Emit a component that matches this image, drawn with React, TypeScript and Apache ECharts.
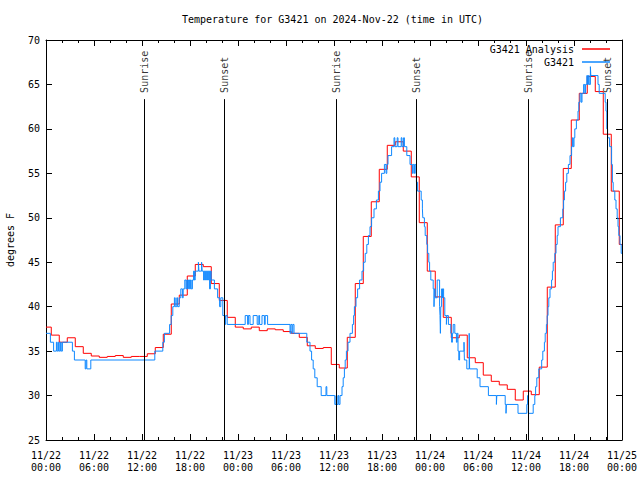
import React, { useEffect, useRef } from 'react';
import * as echarts from 'echarts';

const TITLE = 'Temperature for G3421 on 2024-Nov-22 (time in UTC)';
const Y_NAME = 'degrees F';
const Y_MIN = 25;
const Y_MAX = 70;
const Y_STEP = 5;
const X_MAX = 72; // hours after 11/22 00:00 UTC
const X_STEP = 6;
const START_MONTH = 11;
const START_DAY = 22;

const ANALYSIS_NAME = 'G3421 Analysis';
const OBS_NAME = 'G3421';

// hourly analysis values; each step begins ~20 minutes before the hour
const ANALYSIS_LEAD = 0.34;
const analysisTemps = [
  37.7, 36.8, 36.0, 36.5, 35.5, 34.75, 34.45, 34.3, 34.4, 34.5, 34.3, 34.4,
  34.4, 34.7, 35.4, 36.9, 40.3, 41.3, 43.45, 44.75, 44.5, 42.6, 40.7, 38.8,
  37.7, 37.5, 37.7, 37.3, 37.5, 37.4, 37.2, 37.0, 36.55, 35.6, 35.3, 35.4,
  33.5, 33.1, 36.55, 42.6, 47.9, 51.8, 55.45, 58.15, 58.55, 57.5, 54.6, 49.45,
  44.0, 41.1, 38.8, 36.5, 36.8, 34.25, 33.7, 32.3, 31.6, 31.2, 30.7, 29.5,
  30.5, 30.1, 33.2, 42.2, 49.2, 55.55, 61.0, 64.0, 65.9, 64.2, 59.4, 53.0,
  47.0,
];

// observations: [hour, degrees F]
const observations: [number, number][] = [
  [0, 37], [0.55, 36], [0.95, 35], [1.3, 36], [1.4, 35], [1.55, 36], [1.65, 35],
  [1.8, 36], [1.9, 35], [2.05, 36], [3.3, 35], [3.55, 34], [4.9, 33], [5.0, 34],
  [5.1, 33], [5.6, 34], [13.6, 35], [14.6, 36], [14.8, 37], [15.45, 38], [15.65, 39],
  [15.85, 40], [16.05, 41], [16.15, 40], [16.35, 41], [16.45, 40], [16.65, 41],
  [16.85, 42], [17.05, 41], [17.15, 42], [17.35, 43], [17.5, 42], [17.6, 43],
  [17.7, 42], [17.8, 43], [17.95, 42], [18.05, 43], [18.15, 42], [18.3, 43],
  [18.45, 44], [18.55, 43], [18.65, 44], [19.05, 45], [19.12, 44], [19.45, 45],
  [19.52, 44], [19.7, 43], [19.8, 44], [19.95, 43], [20.05, 44], [20.2, 43],
  [20.3, 44], [20.45, 42], [20.55, 44], [20.65, 43], [21.05, 42], [21.45, 41],
  [21.7, 40], [21.85, 41], [22.1, 39], [22.35, 38], [22.45, 39], [22.65, 38],
  [24.9, 39], [25.2, 38], [25.3, 39], [25.5, 38], [25.9, 39], [26.4, 38],
  [26.6, 39], [26.7, 38], [27.0, 39], [27.3, 38], [27.4, 39], [27.7, 38],
  [30.5, 37], [30.6, 38], [30.75, 37], [30.85, 38], [31.0, 37], [32.6, 36],
  [33.0, 35], [33.2, 34], [33.4, 33], [33.6, 32], [33.9, 31], [34.4, 30],
  [35.0, 31], [35.1, 30], [36.1, 29], [36.25, 30], [36.35, 29], [36.5, 30],
  [36.6, 29], [36.75, 30], [37.0, 31], [37.15, 32], [37.3, 33], [37.4, 34],
  [37.55, 35], [37.75, 36], [38.0, 37], [38.3, 38], [38.45, 39], [38.55, 40],
  [38.75, 41], [38.95, 42], [39.2, 43], [39.5, 44], [39.7, 45], [39.9, 46],
  [40.1, 47], [40.3, 48], [40.5, 49], [40.7, 50], [41.0, 51], [41.3, 52],
  [41.55, 53], [41.75, 54], [41.95, 55], [42.3, 56], [42.5, 55], [42.6, 56],
  [42.75, 57], [43.2, 58], [43.5, 59], [43.6, 58], [43.9, 59], [44.0, 58],
  [44.4, 59], [44.5, 58], [44.7, 59], [44.8, 58], [45.1, 57], [45.5, 56],
  [45.8, 55], [45.9, 56], [46.05, 55], [46.15, 56], [46.3, 54], [46.45, 53],
  [46.9, 52], [47.05, 51], [47.1, 50], [47.3, 49], [47.4, 48], [47.6, 47],
  [47.7, 46], [47.85, 45], [47.95, 44], [48.1, 43], [48.4, 42], [48.5, 40],
  [48.55, 42], [48.65, 41], [48.9, 43], [49.2, 40], [49.25, 39], [49.3, 37],
  [49.35, 40], [49.45, 42], [49.55, 41], [49.6, 42], [49.7, 41], [49.85, 39],
  [50.05, 38], [50.1, 39], [50.3, 38], [50.6, 37], [50.7, 36], [50.8, 37],
  [50.9, 38], [51.1, 37], [51.3, 36], [51.4, 37], [51.5, 35], [51.6, 34],
  [51.7, 35], [52.25, 36], [52.3, 34], [52.6, 33], [52.9, 37], [52.95, 33],
  [53.9, 32], [54.25, 31], [55.3, 30], [56.3, 29], [56.35, 30], [57.4, 29],
  [57.5, 28], [57.55, 29], [59.0, 28], [60.1, 29], [60.2, 30], [60.3, 28],
  [60.9, 29], [61.1, 30], [61.2, 31], [61.35, 32], [61.6, 33], [61.96, 34],
  [62.1, 35], [62.3, 36], [62.4, 37], [62.55, 38], [62.65, 39], [62.75, 40],
  [62.85, 41], [63.0, 42], [63.2, 43], [63.3, 44], [63.4, 45], [63.6, 46],
  [63.75, 47], [63.9, 48], [64.0, 49], [64.3, 50], [64.6, 51], [64.7, 52],
  [64.8, 53], [64.95, 54], [65.1, 55], [65.3, 56], [65.5, 57], [65.7, 58],
  [65.8, 59], [65.9, 58], [66.0, 59], [66.1, 60], [66.3, 61], [66.5, 62],
  [66.6, 63], [66.75, 64], [66.9, 63], [67.0, 64], [67.2, 65], [67.35, 64],
  [67.45, 65], [67.6, 66], [67.7, 65], [67.8, 66], [67.9, 65], [68.05, 67],
  [68.1, 66], [69.0, 65], [69.15, 64], [69.9, 63], [70.0, 62], [70.1, 60],
  [70.2, 59], [70.45, 58], [70.7, 56], [70.8, 54], [70.9, 53], [71.1, 52],
  [71.25, 51], [71.4, 50], [71.5, 49], [71.6, 48], [71.75, 47], [71.9, 46],
  [72, 46],
];

const sunHours = [12.25, 22.25, 36.28, 46.25, 60.28, 70.15];
const sunLabels = ['Sunrise', 'Sunset', 'Sunrise', 'Sunset', 'Sunrise', 'Sunset'];
const SUN_LINE_TOP = 63.35;
const SUN_LABEL_Y = 64.05;

const FONT = 'DejaVu Sans Mono';
const RED = '#ff0000';
const BLUE = '#0f88ff';

function xLabel(v: number): string {
  const day = START_DAY + Math.floor(v / 24);
  const hh = v % 24;
  return `${START_MONTH}/${day}\n${String(hh).padStart(2, '0')}:00`;
}

export default function App() {
  const ref = useRef<HTMLDivElement>(null);
  useEffect(() => {
    if (!ref.current) return;
    const chart = echarts.init(ref.current, undefined, { renderer: 'svg' });

    const analysisData = analysisTemps.map((v, i) => [Math.max(0, i - ANALYSIS_LEAD), v]);
    analysisData.push([X_MAX, analysisTemps[analysisTemps.length - 1]]);

    const baseX = {
      type: 'value',
      min: 0,
      max: X_MAX,
      interval: X_STEP,
      splitLine: { show: false },
      axisLine: { show: true, onZero: false, lineStyle: { color: '#000', width: 1 } },
      axisTick: { show: true, inside: true, length: 6, lineStyle: { color: '#000' } },
      minorTick: { show: true, splitNumber: 3, length: 3, lineStyle: { color: '#000' } },
    };
    const baseY = {
      type: 'value',
      min: Y_MIN,
      max: Y_MAX,
      interval: Y_STEP,
      splitLine: { show: false },
      axisLine: { show: true, onZero: false, lineStyle: { color: '#000', width: 1 } },
      axisTick: { show: true, inside: true, length: 6, lineStyle: { color: '#000' } },
    };

    const legendBase = {
      orient: 'horizontal',
      align: 'right',
      right: 30,
      padding: 0,
      itemWidth: 28,
      itemHeight: 1.5,
      icon: 'rect',
      selectedMode: false,
      textStyle: { fontFamily: FONT, fontSize: 10, color: '#000', padding: [0, 3, 0, 0] },
    };

    chart.setOption({
      animation: false,
      backgroundColor: '#fff',
      title: {
        text: TITLE,
        left: 182,
        top: 14,
        padding: 0,
        textStyle: { fontFamily: FONT, fontSize: 10, fontWeight: 'normal', color: '#000' },
      },
      legend: [
        { ...legendBase, top: 44, data: [ANALYSIS_NAME] },
        { ...legendBase, top: 57, data: [OBS_NAME] },
      ],
      grid: {
        left: 46,
        right: 18,
        top: 40,
        bottom: 40,
        containLabel: false,
        outerBoundsMode: 'none',
      },
      xAxis: [
        {
          ...baseX,
          position: 'bottom',
          axisLabel: {
            show: true,
            formatter: xLabel,
            fontFamily: FONT,
            fontSize: 10,
            color: '#000',
            lineHeight: 12,
            margin: 9,
          },
        },
        { ...baseX, position: 'top', axisLabel: { show: false } },
      ],
      yAxis: [
        {
          ...baseY,
          position: 'left',
          name: Y_NAME,
          nameLocation: 'middle',
          nameRotate: 90,
          nameGap: 31,
          nameTextStyle: { fontFamily: FONT, fontSize: 10, color: '#000' },
          axisLabel: { show: true, fontFamily: FONT, fontSize: 10, color: '#000', margin: 6 },
        },
        { ...baseY, position: 'right', axisLabel: { show: false } },
      ],
      series: [
        {
          name: ANALYSIS_NAME,
          type: 'line',
          step: 'end',
          data: analysisData,
          showSymbol: false,
          symbol: 'none',
          silent: true,
          lineStyle: { color: RED, width: 1 },
          itemStyle: { color: RED },
          markLine: {
            silent: true,
            symbol: 'none',
            label: { show: false },
            lineStyle: { color: '#000', width: 1, type: 'solid' },
            data: sunHours.map((h) => [
              { coord: [h, Y_MIN] },
              { coord: [h, SUN_LINE_TOP] },
            ]),
          },
        },
        {
          name: OBS_NAME,
          type: 'line',
          step: 'end',
          data: observations,
          showSymbol: false,
          symbol: 'none',
          silent: true,
          lineStyle: { color: BLUE, width: 1 },
          itemStyle: { color: BLUE },
        },
        {
          name: 'sun',
          type: 'scatter',
          symbolSize: 0,
          silent: true,
          data: sunHours.map((h, i) => ({ value: [h, SUN_LABEL_Y], name: sunLabels[i] })),
          label: {
            show: true,
            position: 'inside',
            formatter: (p: any) => p.name,
            rotate: 90,
            align: 'left',
            verticalAlign: 'middle',
            fontFamily: FONT,
            fontSize: 10,
            color: '#000',
          },
        },
      ],
    });
    return () => chart.dispose();
  }, []);
  return (
    <div
      ref={ref}
      style={{ position: 'fixed', left: 0, top: 0, width: 640, height: 480, background: '#fff' }}
    />
  );
}
